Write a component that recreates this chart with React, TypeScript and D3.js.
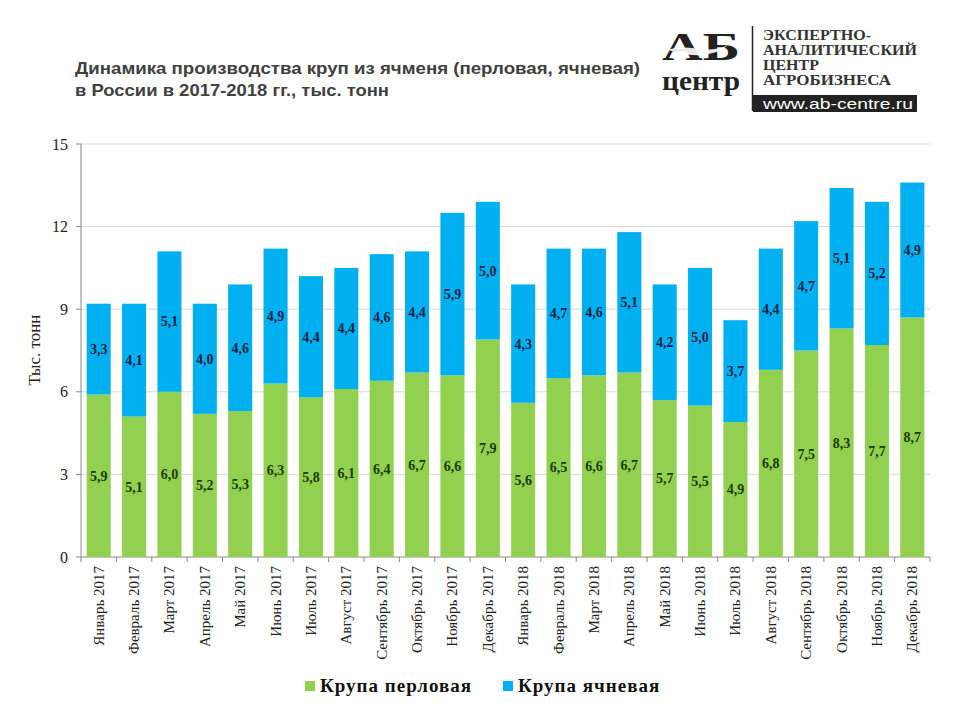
import React from "react";
import * as d3 from "d3";

const categories = [
  "Январь 2017", "Февраль 2017", "Март 2017", "Апрель 2017", "Май 2017", "Июнь 2017",
  "Июль 2017", "Август 2017", "Сентябрь 2017", "Октябрь 2017", "Ноябрь 2017", "Декабрь 2017",
  "Январь 2018", "Февраль 2018", "Март 2018", "Апрель 2018", "Май 2018", "Июнь 2018",
  "Июль 2018", "Август 2018", "Сентябрь 2018", "Октябрь 2018", "Ноябрь 2018", "Декабрь 2018",
];
const perlovaya = [5.9, 5.1, 6.0, 5.2, 5.3, 6.3, 5.8, 6.1, 6.4, 6.7, 6.6, 7.9, 5.6, 6.5, 6.6, 6.7, 5.7, 5.5, 4.9, 6.8, 7.5, 8.3, 7.7, 8.7];
const yachnevaya = [3.3, 4.1, 5.1, 4.0, 4.6, 4.9, 4.4, 4.4, 4.6, 4.4, 5.9, 5.0, 4.3, 4.7, 4.6, 5.1, 4.2, 5.0, 3.7, 4.4, 4.7, 5.1, 5.2, 4.9];
const yTicks = [0, 3, 6, 9, 12, 15];
const seriesNames = ["Крупа перловая", "Крупа ячневая"];

const GREEN = "#92D050";
const BLUE = "#00B0F0";
const serif = "'Liberation Serif', 'Times New Roman', serif";
const sans = "'Liberation Sans', Arial, sans-serif";

const fmt = (v: number) => v.toFixed(1).replace(".", ",");

export default function App() {
  const x = d3.scaleBand<string>().domain(categories).range([81, 930]).paddingInner(0.32).paddingOuter(0.16);
  const y = d3.scaleLinear().domain([0, 15]).range([557, 144]);
  const step = x.step();
  const x0 = 81;

  const stack = d3.stack<number>().keys(["p", "y"]).value((i, k) => (k === "p" ? perlovaya[i] : yachnevaya[i]));
  const series = stack(d3.range(categories.length));
  const colors = [GREEN, BLUE];
  const labelColors = ["#1B3A0A", "#0E2242"];

  return (
    <svg width={960} height={720} style={{ position: "absolute", left: 0, top: 0, background: "#fff" }}>
      <rect width={960} height={720} fill="#fff" />
      {/* Title */}
      <text x={75} y={74} fontFamily={sans} fontWeight="bold" fontSize={17} fill="#404040" textLength={565} lengthAdjust="spacingAndGlyphs">
        Динамика производства круп из ячменя (перловая, ячневая)
      </text>
      <text x={75} y={96} fontFamily={sans} fontWeight="bold" fontSize={17} fill="#404040" textLength={314} lengthAdjust="spacingAndGlyphs">
        в России в 2017-2018 гг., тыс. тонн
      </text>

      {/* Logo */}
      <g>
        <text x={662} y={60} fontFamily={serif} fontWeight="bold" fontSize={40} fill="#222" textLength={78} lengthAdjust="spacingAndGlyphs">АБ</text>
        <path d="M668,50 C690,42 705,56 728,45 C718,54 700,58 680,53 Z" fill="#fff" opacity={0.9} />
        <text x={662} y={90} fontFamily={serif} fontWeight="bold" fontSize={27} fill="#222" textLength={78} lengthAdjust="spacingAndGlyphs">центр</text>
        <line x1={752.5} x2={752.5} y1={26} y2={111} stroke="#222" strokeWidth={1.5} />
        {["ЭКСПЕРТНО-", "АНАЛИТИЧЕСКИЙ", "ЦЕНТР", "АГРОБИЗНЕСА"].map((t, i) => (
          <text key={t} x={763} y={40 + i * 15} fontFamily={serif} fontWeight="bold" fontSize={14} fill="#333"
            textLength={[108, 154, 56, 128][i]} lengthAdjust="spacingAndGlyphs">{t}</text>
        ))}
        <rect x={753} y={95} width={164} height={17} fill="#222" />
        <text x={763} y={109} fontFamily={sans} fontSize={15} fill="#fff" textLength={150} lengthAdjust="spacingAndGlyphs">www.ab-centre.ru</text>
      </g>

      {/* Gridlines */}
      {yTicks.map((t) => (
        <g key={t}>
          <line x1={x0} x2={930} y1={y(t)} y2={y(t)} stroke={t === 0 ? "#888" : "#D9D9D9"} strokeWidth={1} />
          <line x1={76} x2={x0} y1={y(t)} y2={y(t)} stroke="#888" />
          <text x={68} y={y(t)} dy="0.35em" textAnchor="end" fontFamily={serif} fontSize={16} fill="#222">{t}</text>
        </g>
      ))}
      <line x1={x0} x2={x0} y1={144} y2={557} stroke="#888" />
      {d3.range(categories.length + 1).map((i) => (
        <line key={i} x1={x0 + i * step} x2={x0 + i * step} y1={557} y2={562} stroke="#888" />
      ))}

      {/* Bars */}
      {series.map((s, si) => (
        <g key={si}>
          {s.map((d, i) => (
            <rect key={i} x={x(categories[i])} y={y(d[1])} width={x.bandwidth()} height={y(d[0]) - y(d[1])} fill={colors[si]} />
          ))}
        </g>
      ))}
      {series.map((s, si) => (
        <g key={"l" + si}>
          {s.map((d, i) => (
            <text key={i} x={(x(categories[i]) ?? 0) + x.bandwidth() / 2} y={y((d[0] + d[1]) / 2)} dy="0.35em" textAnchor="middle"
              fontFamily={serif} fontWeight="bold" fontSize={14} fill={labelColors[si]}>
              {fmt(si === 0 ? perlovaya[i] : yachnevaya[i])}
            </text>
          ))}
        </g>
      ))}

      {/* X labels */}
      {categories.map((c) => {
        const cx = (x(c) ?? 0) + x.bandwidth() / 2;
        return (
          <text key={c} transform={`translate(${cx + 5},566) rotate(-90)`} textAnchor="end" fontFamily={serif} fontSize={15} fill="#222">{c}</text>
        );
      })}

      {/* Y title */}
      <text transform="translate(40,350) rotate(-90)" textAnchor="middle" fontFamily={serif} fontSize={17} fill="#222">Тыс. тонн</text>

      {/* Legend */}
      <rect x={305} y={681} width={10} height={10} fill={GREEN} />
      <text x={320} y={692} fontFamily={serif} fontWeight="bold" fontSize={19} fill="#111" letterSpacing={1}>{seriesNames[0]}</text>
      <rect x={503} y={681} width={10} height={10} fill={BLUE} />
      <text x={518} y={692} fontFamily={serif} fontWeight="bold" fontSize={19} fill="#111" letterSpacing={1}>{seriesNames[1]}</text>
    </svg>
  );
}
